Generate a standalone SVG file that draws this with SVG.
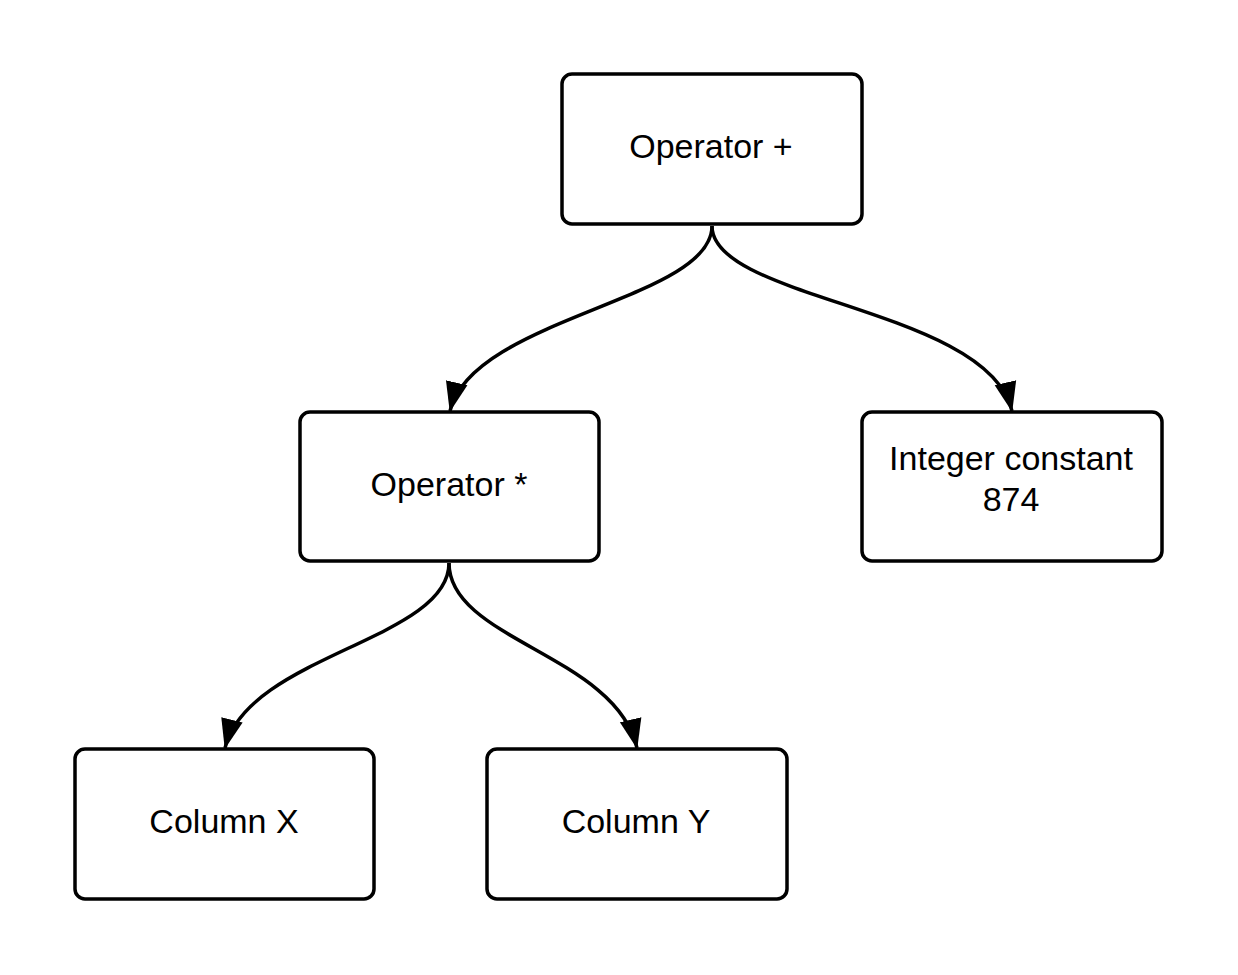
<svg xmlns="http://www.w3.org/2000/svg" width="1238" height="975" viewBox="0 0 1238 975">
<style>
.box{fill:#fff;stroke:#000;stroke-width:3.5}
.lbl{font-family:"Liberation Sans",Arial,sans-serif;font-size:34px;fill:#000;text-anchor:middle}
.edge{fill:none;stroke:#000;stroke-width:3.5}
</style>
<defs>
<marker id="arr" markerUnits="userSpaceOnUse" markerWidth="32" markerHeight="24" viewBox="0 0 32 24" refX="29" refY="12" orient="auto">
<path d="M0,1 L30,12 L0,23 Z" fill="#000"/>
</marker>
</defs>
<rect width="1238" height="975" fill="#fff"/>
<g id="connectors">
<path class="edge" d="M712,226 C712,300 472,318 450,411" marker-end="url(#arr)"/>
<path class="edge" d="M712,226 C712,300 988,308 1012,411" marker-end="url(#arr)"/>
<path class="edge" d="M449,563 C449,640 248,655 225,748" marker-end="url(#arr)"/>
<path class="edge" d="M449,563 C449,640 616,655 637,748" marker-end="url(#arr)"/>
</g>
<g id="op-plus">
<rect class="box" x="562" y="74" width="300" height="150" rx="10"/>
<text class="lbl" x="711" y="158">Operator +</text>
</g>
<g id="op-mul">
<rect class="box" x="300" y="412" width="299" height="149" rx="10"/>
<text class="lbl" x="449" y="496">Operator *</text>
</g>
<g id="int-const">
<rect class="box" x="862" y="412" width="300" height="149" rx="10"/>
<text class="lbl" x="1011" y="470">Integer constant</text>
<text class="lbl" x="1011" y="511">874</text>
</g>
<g id="col-x">
<rect class="box" x="75" y="749" width="299" height="150" rx="10"/>
<text class="lbl" x="224" y="833">Column X</text>
</g>
<g id="col-y">
<rect class="box" x="487" y="749" width="300" height="150" rx="10"/>
<text class="lbl" x="636" y="833">Column Y</text>
</g>
</svg>
